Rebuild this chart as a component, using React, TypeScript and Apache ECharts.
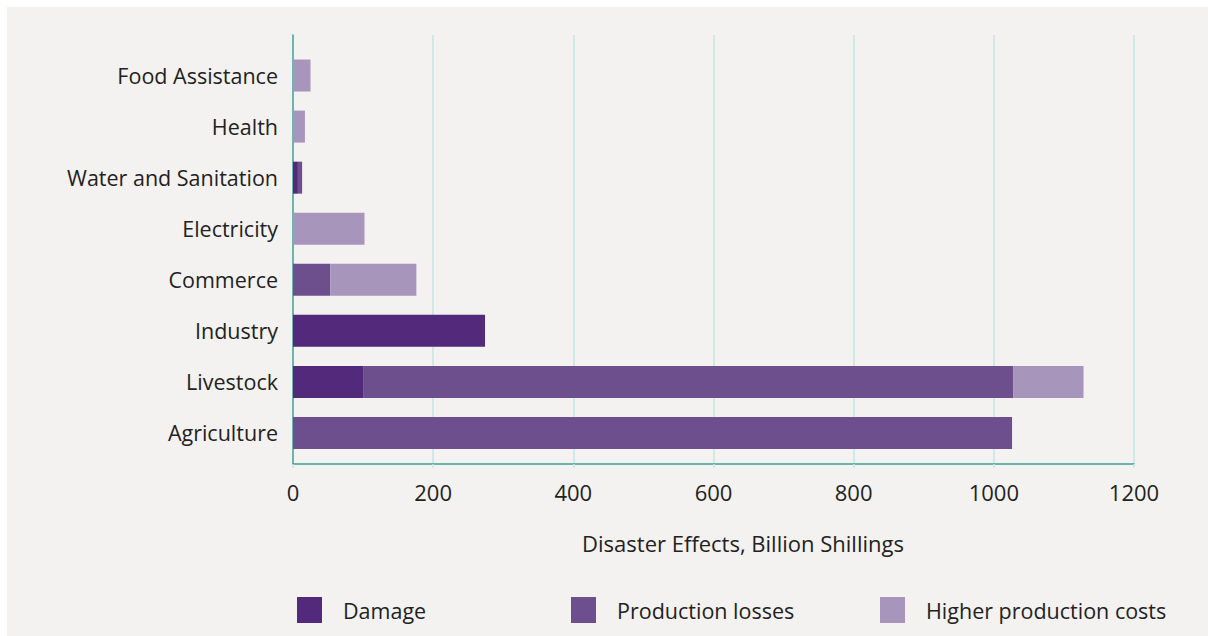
import React, { useEffect, useRef } from "react";
import * as echarts from "echarts";

const categories = [
  "Agriculture",
  "Livestock",
  "Industry",
  "Commerce",
  "Electricity",
  "Water and Sanitation",
  "Health",
  "Food Assistance",
];
const damage = [0, 100, 274, 0, 0, 7, 0, 0];
const productionLosses = [1026, 928, 0, 53, 0, 6, 0, 0];
const higherCosts = [0, 100, 0, 123, 102, 0, 17, 25];
const xTicks = [0, 200, 400, 600, 800, 1000, 1200];
const seriesNames = ["Damage", "Production losses", "Higher production costs"];
const colors = ["#532a7b", "#6d4f8d", "#a895bc"];

const FONT = "'Open Sans', sans-serif";

export default function App() {
  const ref = useRef<HTMLDivElement>(null);
  useEffect(() => {
    document.body.style.margin = "0";
    const chart = echarts.init(ref.current!, null, { renderer: "svg" });
    const values = [damage, productionLosses, higherCosts];
    const legendLefts = [290, 564, 873];
    chart.setOption({
      animation: false,
      backgroundColor: "#f4f2f0",
      textStyle: { fontFamily: FONT },
      grid: [
        { left: 286, right: 74, top: 28, bottom: 172 },
        { left: 286, right: 74, top: 43, bottom: 177.5 },
      ],
      xAxis: [
        {
          gridIndex: 0,
          type: "value",
          min: xTicks[0],
          max: xTicks[xTicks.length - 1],
          interval: 200,
          axisLine: { show: true, lineStyle: { color: "#3f9e97", width: 1.5 } },
          axisTick: { show: true, length: 4, lineStyle: { color: "#c6e6e3", width: 1.5 } },
          splitLine: { show: true, lineStyle: { color: "#c6e6e3", width: 1.5 } },
          axisLabel: {
            fontSize: 22,
            color: "#222",
            margin: 17,
            fontFamily: FONT,
            formatter: (v: number) => String(v),
          },
        },
        {
          gridIndex: 1,
          type: "value",
          min: xTicks[0],
          max: xTicks[xTicks.length - 1],
          show: false,
        },
      ],
      yAxis: [
        {
          gridIndex: 0,
          type: "value",
          min: 0,
          max: 1,
          axisLine: { show: true, lineStyle: { color: "#4aa39c", width: 1.5 } },
          axisTick: { show: false },
          axisLabel: { show: false },
          splitLine: { show: false },
        },
        {
          gridIndex: 1,
          type: "category",
          data: categories,
          axisLine: { show: false },
          axisTick: { show: false },
          axisLabel: { fontSize: 21.5, color: "#222", margin: 15, fontFamily: FONT },
        },
      ],
      legend: seriesNames.map((name, i) => ({
        data: [name],
        left: legendLefts[i],
        top: 590,
        padding: 0,
        icon: "rect",
        itemWidth: 25,
        itemHeight: 26,
        textStyle: { fontSize: 21.5, color: "#222", fontFamily: FONT, padding: [0, 0, 0, 16] },
      })),
      graphic: [
        {
          type: "text",
          x: 736,
          y: 536,
          style: {
            text: "Disaster Effects, Billion Shillings",
            fontSize: 22,
            fill: "#222",
            fontFamily: FONT,
            align: "center",
            verticalAlign: "middle",
          },
        },
      ],
      series: seriesNames.map((name, i) => ({
        name,
        type: "bar",
        stack: "total",
        xAxisIndex: 1,
        yAxisIndex: 1,
        barWidth: 32,
        itemStyle: { color: colors[i] },
        data: values[i].map((v) => (v === 0 ? null : v)),
      })),
    });
    return () => chart.dispose();
  }, []);
  return (
    <div style={{ width: 1208, height: 636, background: "#ffffff", position: "relative" }}>
      <div
        ref={ref}
        style={{ position: "absolute", left: 7, top: 7, width: 1201, height: 629 }}
      />
    </div>
  );
}
